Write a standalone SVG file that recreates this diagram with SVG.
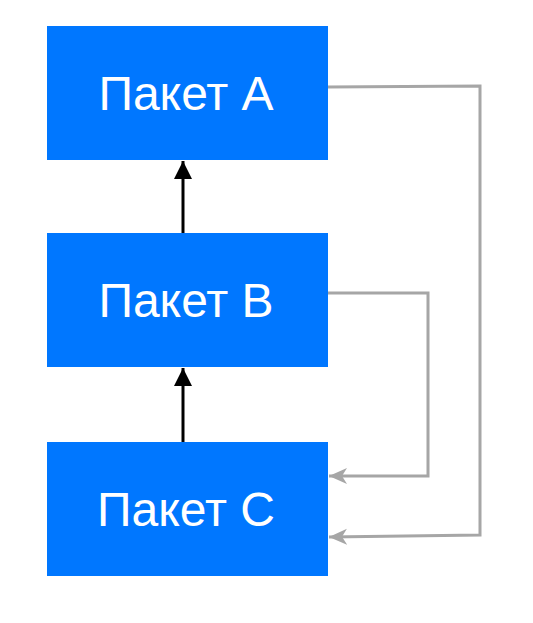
<svg xmlns="http://www.w3.org/2000/svg" width="533" height="623" viewBox="0 0 533 623">
<style>
.box{fill:#0077FF}
.lbl{font-family:"Liberation Sans",Arial,sans-serif;font-size:48px;fill:#fff;text-anchor:middle;dominant-baseline:central}
.dep{stroke:#000;stroke-width:3;fill:none}
.use{stroke:#A6A6A6;stroke-width:3;fill:none}
</style>
<defs>
<marker id="ab" viewBox="0 0 18 18" refX="18" refY="9" markerWidth="18" markerHeight="18" markerUnits="userSpaceOnUse" orient="auto">
<path d="M0,0 L18,9 L0,18 Z" fill="#000"/>
</marker>
<marker id="ag" viewBox="0 0 18 18" refX="18" refY="9" markerWidth="18" markerHeight="18" markerUnits="userSpaceOnUse" orient="auto">
<path d="M18,9 L0,1 L5,9 L0,17 Z" fill="#A6A6A6"/>
</marker>
</defs>
<g id="nodeA"><rect class="box" x="47" y="26" width="281" height="134"/><text class="lbl" x="186" y="93">Пакет A</text></g>
<g id="nodeB"><rect class="box" x="47" y="233" width="281" height="134"/><text class="lbl" x="186" y="300">Пакет B</text></g>
<g id="nodeC"><rect class="box" x="47" y="442" width="281" height="134"/><text class="lbl" x="186" y="509">Пакет C</text></g>
<g id="connectors">
<line class="dep" x1="183" y1="233" x2="183" y2="161" marker-end="url(#ab)"/>
<line class="dep" x1="183" y1="442" x2="183" y2="368" marker-end="url(#ab)"/>
<polyline class="use" points="328,87 480,86 480,535 329,537" marker-end="url(#ag)"/>
<polyline class="use" points="328,293 428,293 428,476 329,476" marker-end="url(#ag)"/>
</g>
</svg>
